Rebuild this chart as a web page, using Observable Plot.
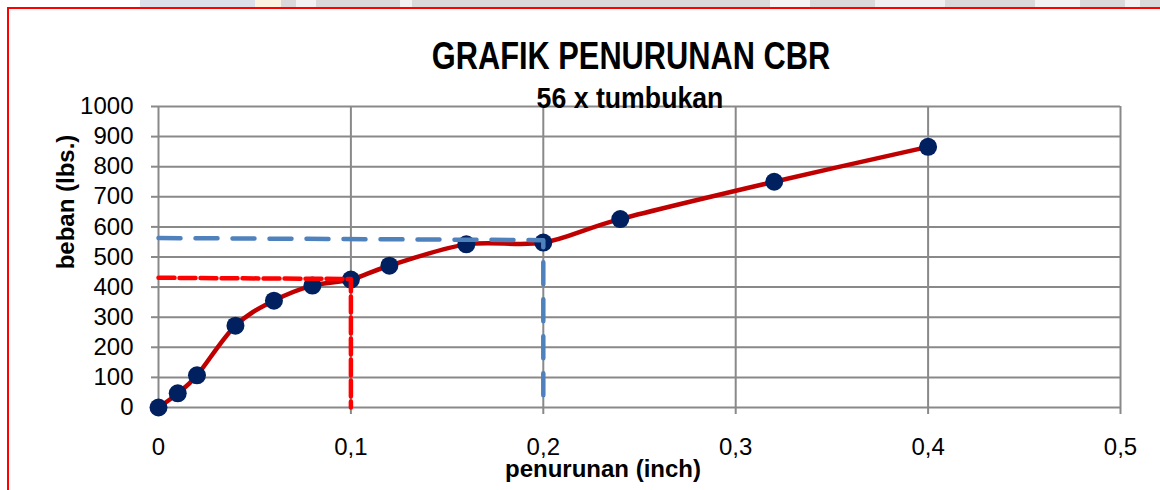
<!DOCTYPE html>
<html>
<head>
<meta charset="utf-8">
<script src="https://cdn.jsdelivr.net/npm/d3@7"></script>
<script src="https://cdn.jsdelivr.net/npm/@observablehq/plot@0.6"></script>
<style>
  html, body { margin: 0; padding: 0; background: #fff; }
  #wrap { position: relative; width: 1160px; height: 490px; overflow: hidden; background: #fff; }
  #chart { position: absolute; left: 0; top: 0; }
  .strip { position: absolute; top: 0; height: 7px; }
  #border { position: absolute; left: 7px; top: 7px; width: 1300px; height: 600px;
            border-left: 2.5px solid #ff0000; border-top: 2.5px solid #ff0000; box-sizing: border-box; }
  .t { position: absolute; font-family: "Liberation Sans", Arial, sans-serif; color: #000; white-space: nowrap; font-weight: bold; }
  #title { left: 631px; top: 35px; transform: translateX(-50%) scaleX(0.81); font-size: 38px; }
  #subtitle { left: 630px; top: 82px; transform: translateX(-50%) scaleX(0.92); font-size: 29px; }
  #xlabel { left: 603px; top: 455px; transform: translateX(-50%); font-size: 24px; }
  #ylabel { left: 66px; top: 202px; transform: translate(-50%, -50%) rotate(-90deg); font-size: 24px; }
</style>
</head>
<body>
<div id="wrap">
  <div class="strip" style="left:0;width:1160px;background:#d9d9d9"></div>
  <div class="strip" style="left:0;width:140px;background:#ffffff"></div>
  <div class="strip" style="left:140px;width:115px;background:#dadfe9"></div>
  <div class="strip" style="left:255px;width:26px;background:#fbf3e0"></div>
  <div class="strip" style="left:296px;width:20px;background:#f2f2f2"></div>
  <div class="strip" style="left:400px;width:12px;background:#f2f2f2"></div>
  <div class="strip" style="left:770px;width:40px;background:#f4f4f4"></div>
  <div class="strip" style="left:875px;width:70px;background:#f0f0f0"></div>
  <div class="strip" style="left:1035px;width:45px;background:#f2f2f2"></div>
  <div class="strip" style="left:1125px;width:15px;background:#f2f2f2"></div>
  <div id="chart"></div>
  <div id="border"></div>
  <div id="title" class="t">GRAFIK PENURUNAN CBR</div>
  <div id="subtitle" class="t">56 x tumbukan</div>
  <div id="xlabel" class="t">penurunan (inch)</div>
  <div id="ylabel" class="t">beban (lbs.)</div>
</div>
<script>
// Data
const penurunan = [0, 0.01, 0.02, 0.04, 0.06, 0.08, 0.1, 0.12, 0.16, 0.2, 0.24, 0.32, 0.4];
const beban     = [0, 47, 107, 272, 355, 405, 425, 471, 542, 548, 626, 750, 866];

// Reading lines at 0.1 and 0.2 inch
const garis01X = [0, 0.1, 0.1];
const garis01Y = [431, 427, 0];
const garis02X = [0, 0.2, 0.2];
const garis02Y = [563, 556, 0];

const xTicks = [0, 0.1, 0.2, 0.3, 0.4, 0.5];
const xTickLabels = ["0", "0,1", "0,2", "0,3", "0,4", "0,5"];
const yTicks = [0, 100, 200, 300, 400, 500, 600, 700, 800, 900, 1000];

const data = penurunan.map((x, i) => ({x, y: beban[i]}));
const line01 = garis01X.map((x, i) => ({x, y: garis01Y[i]}));
const line02 = garis02X.map((x, i) => ({x, y: garis02Y[i]}));

const gridColor = "#898989";

const chart = Plot.plot({
  width: 1160,
  height: 490,
  marginLeft: 158,
  marginRight: 40,
  marginTop: 106,
  marginBottom: 83,
  style: {fontFamily: "Liberation Sans, Arial, sans-serif", fontSize: "24px", background: "transparent", color: "#000"},
  x: {domain: [0, 0.5]},
  y: {domain: [0, 1000]},
  marks: [
    Plot.gridX(xTicks, {stroke: gridColor, strokeOpacity: 1, strokeWidth: 2}),
    Plot.gridY(yTicks, {stroke: gridColor, strokeOpacity: 1, strokeWidth: 2}),
    Plot.axisX({ticks: xTicks, tickFormat: (d, i) => xTickLabels[i], tickSize: 7, tickPadding: 23,
                stroke: gridColor, strokeWidth: 2, fill: "#000", fontSize: 24, label: null}),
    Plot.axisY({ticks: yTicks, tickFormat: d => String(d), tickSize: 7, tickPadding: 18,
                stroke: gridColor, strokeWidth: 2, fill: "#000", fontSize: 24, label: null}),
    Plot.line(data, {x: "x", y: "y", curve: "cardinal", stroke: "#c00000", strokeWidth: 4.5}),
    Plot.dot(data, {x: "x", y: "y", r: 9, fill: "#002060", stroke: null}),
    Plot.line(line01, {x: "x", y: "y", stroke: "#ff0000", strokeWidth: 4.5, strokeDasharray: "16 5"}),
    Plot.line(line02, {x: "x", y: "y", stroke: "#4f81bd", strokeWidth: 4.5, strokeDasharray: "22 15"})
  ]
});
document.getElementById("chart").appendChild(chart);
</script>
</body>
</html>
